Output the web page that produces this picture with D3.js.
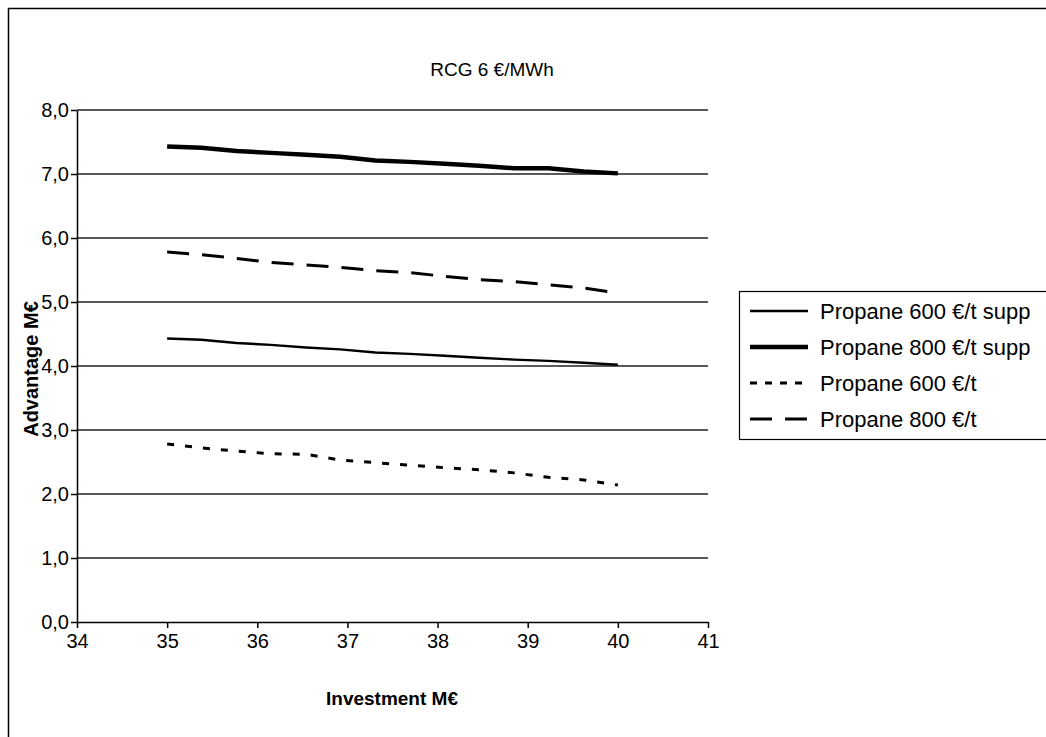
<!doctype html>
<meta charset="utf-8">
<style>
body { margin: 0; background: #fff; }
svg { display: block; font-family: "Liberation Sans", Arial, sans-serif; }
.tick text { font-size: 20px; fill: #000; font-family: "Liberation Sans", Arial, sans-serif; }
</style>
<div id="chart"></div>
<script src="https://cdnjs.cloudflare.com/ajax/libs/d3/7.8.5/d3.min.js"></script>
<script>
// data
var investment = [35, 35.38, 35.77, 36.15, 36.54, 36.92, 37.31, 37.69, 38.08, 38.46, 38.85, 39.23, 39.62, 40];
var p600supp = [4.43, 4.41, 4.36, 4.33, 4.29, 4.26, 4.21, 4.19, 4.16, 4.13, 4.10, 4.08, 4.05, 4.02];
var p800supp = [7.43, 7.41, 7.36, 7.33, 7.30, 7.27, 7.21, 7.19, 7.16, 7.13, 7.09, 7.09, 7.04, 7.01];
var p600 = [2.78, 2.72, 2.67, 2.63, 2.62, 2.53, 2.49, 2.45, 2.41, 2.38, 2.33, 2.26, 2.22, 2.14];
var p800 = [5.78, 5.74, 5.68, 5.62, 5.58, 5.54, 5.49, 5.46, 5.40, 5.35, 5.32, 5.27, 5.22, 5.14];
var seriesNames = ["Propane 600 €/t supp", "Propane 800 €/t supp", "Propane 600 €/t", "Propane 800 €/t"];
var xTicks = [34, 35, 36, 37, 38, 39, 40, 41];
var yTicks = [0, 1, 2, 3, 4, 5, 6, 7, 8];

var W = 1046, H = 737;
var margin = {left: 77, top: 110, right: 338, bottom: 115};

var svg = d3.select("#chart").append("svg")
  .attr("width", W)
  .attr("height", H);

// outer frame (only top and left edges fall inside the picture)
svg.append("rect")
  .attr("x", 8.5).attr("y", 8.5)
  .attr("width", W + 20).attr("height", H + 20)
  .attr("fill", "none").attr("stroke", "#000").attr("stroke-width", 1.5);

var x = d3.scaleLinear().domain([34, 41]).range([margin.left, W - margin.right]);
var y = d3.scaleLinear().domain([0, 8]).range([H - margin.bottom, margin.top]);

// gridlines
svg.append("g")
  .selectAll("line")
  .data(yTicks.filter(d => d > 0))
  .enter()
  .append("line")
  .attr("x1", x(34)).attr("x2", x(41))
  .attr("y1", d => y(d)).attr("y2", d => y(d))
  .attr("stroke", "#222").attr("stroke-width", 1.5);

var fmt = d => d.toFixed(1).replace(".", ",");

var yAxis = d3.axisLeft(y).tickValues(yTicks).tickFormat(fmt).tickSize(6).tickSizeOuter(0).tickPadding(2);
var gy = svg.append("g")
  .attr("transform", "translate(" + x(34) + ",0)")
  .call(yAxis);

var xAxis = d3.axisBottom(x).tickValues(xTicks).tickFormat(d3.format("d")).tickSize(6).tickSizeOuter(0).tickPadding(6);
var gx = svg.append("g")
  .attr("transform", "translate(0," + y(0) + ")")
  .call(xAxis);

[gx, gy].forEach(g => {
  g.select(".domain").attr("stroke", "#000").attr("stroke-width", 1.5);
  g.selectAll(".tick line").attr("stroke", "#000").attr("stroke-width", 1.5);
});

// series
var styles = [
  {width: 2.4, dash: null},
  {width: 4.4, dash: null},
  {width: 3, dash: "7,11"},
  {width: 3, dash: "22,13"}
];
var allSeries = [p600supp, p800supp, p600, p800];

var line = d3.line()
  .x((d, i) => x(investment[i]))
  .y(d => y(d));

svg.append("g")
  .selectAll("path")
  .data(allSeries)
  .enter()
  .append("path")
  .attr("d", d => line(d))
  .attr("fill", "none")
  .attr("stroke", "#000")
  .attr("stroke-width", (d, i) => styles[i].width)
  .attr("stroke-dasharray", (d, i) => styles[i].dash);

// title and axis titles
svg.append("text")
  .attr("x", 492).attr("y", 76)
  .attr("text-anchor", "middle")
  .attr("font-size", 19)
  .text("RCG 6 €/MWh");

svg.append("text")
  .attr("x", 392).attr("y", 705)
  .attr("text-anchor", "middle")
  .attr("font-size", 19)
  .attr("font-weight", "bold")
  .text("Investment M€");

svg.append("text")
  .attr("transform", "translate(38,369) rotate(-90)")
  .attr("text-anchor", "middle")
  .attr("font-size", 20)
  .attr("font-weight", "bold")
  .text("Advantage M€");

// legend
var legend = svg.append("g").attr("transform", "translate(739,291)");
legend.append("rect")
  .attr("x", 0.5).attr("y", 0.5)
  .attr("width", 330).attr("height", 148)
  .attr("fill", "#fff").attr("stroke", "#000").attr("stroke-width", 1.2);

var items = legend.selectAll(".item")
  .data(seriesNames)
  .enter()
  .append("g")
  .attr("class", "item")
  .attr("transform", (d, i) => "translate(0," + (20 + i * 36) + ")");

items.append("line")
  .attr("x1", 11).attr("x2", 69)
  .attr("stroke", "#000")
  .attr("stroke-width", (d, i) => styles[i].width)
  .attr("stroke-dasharray", (d, i) => i === 2 ? "7,8" : styles[i].dash);

items.append("text")
  .attr("x", 81).attr("y", 8)
  .attr("font-size", 22)
  .text(d => d);
</script>
